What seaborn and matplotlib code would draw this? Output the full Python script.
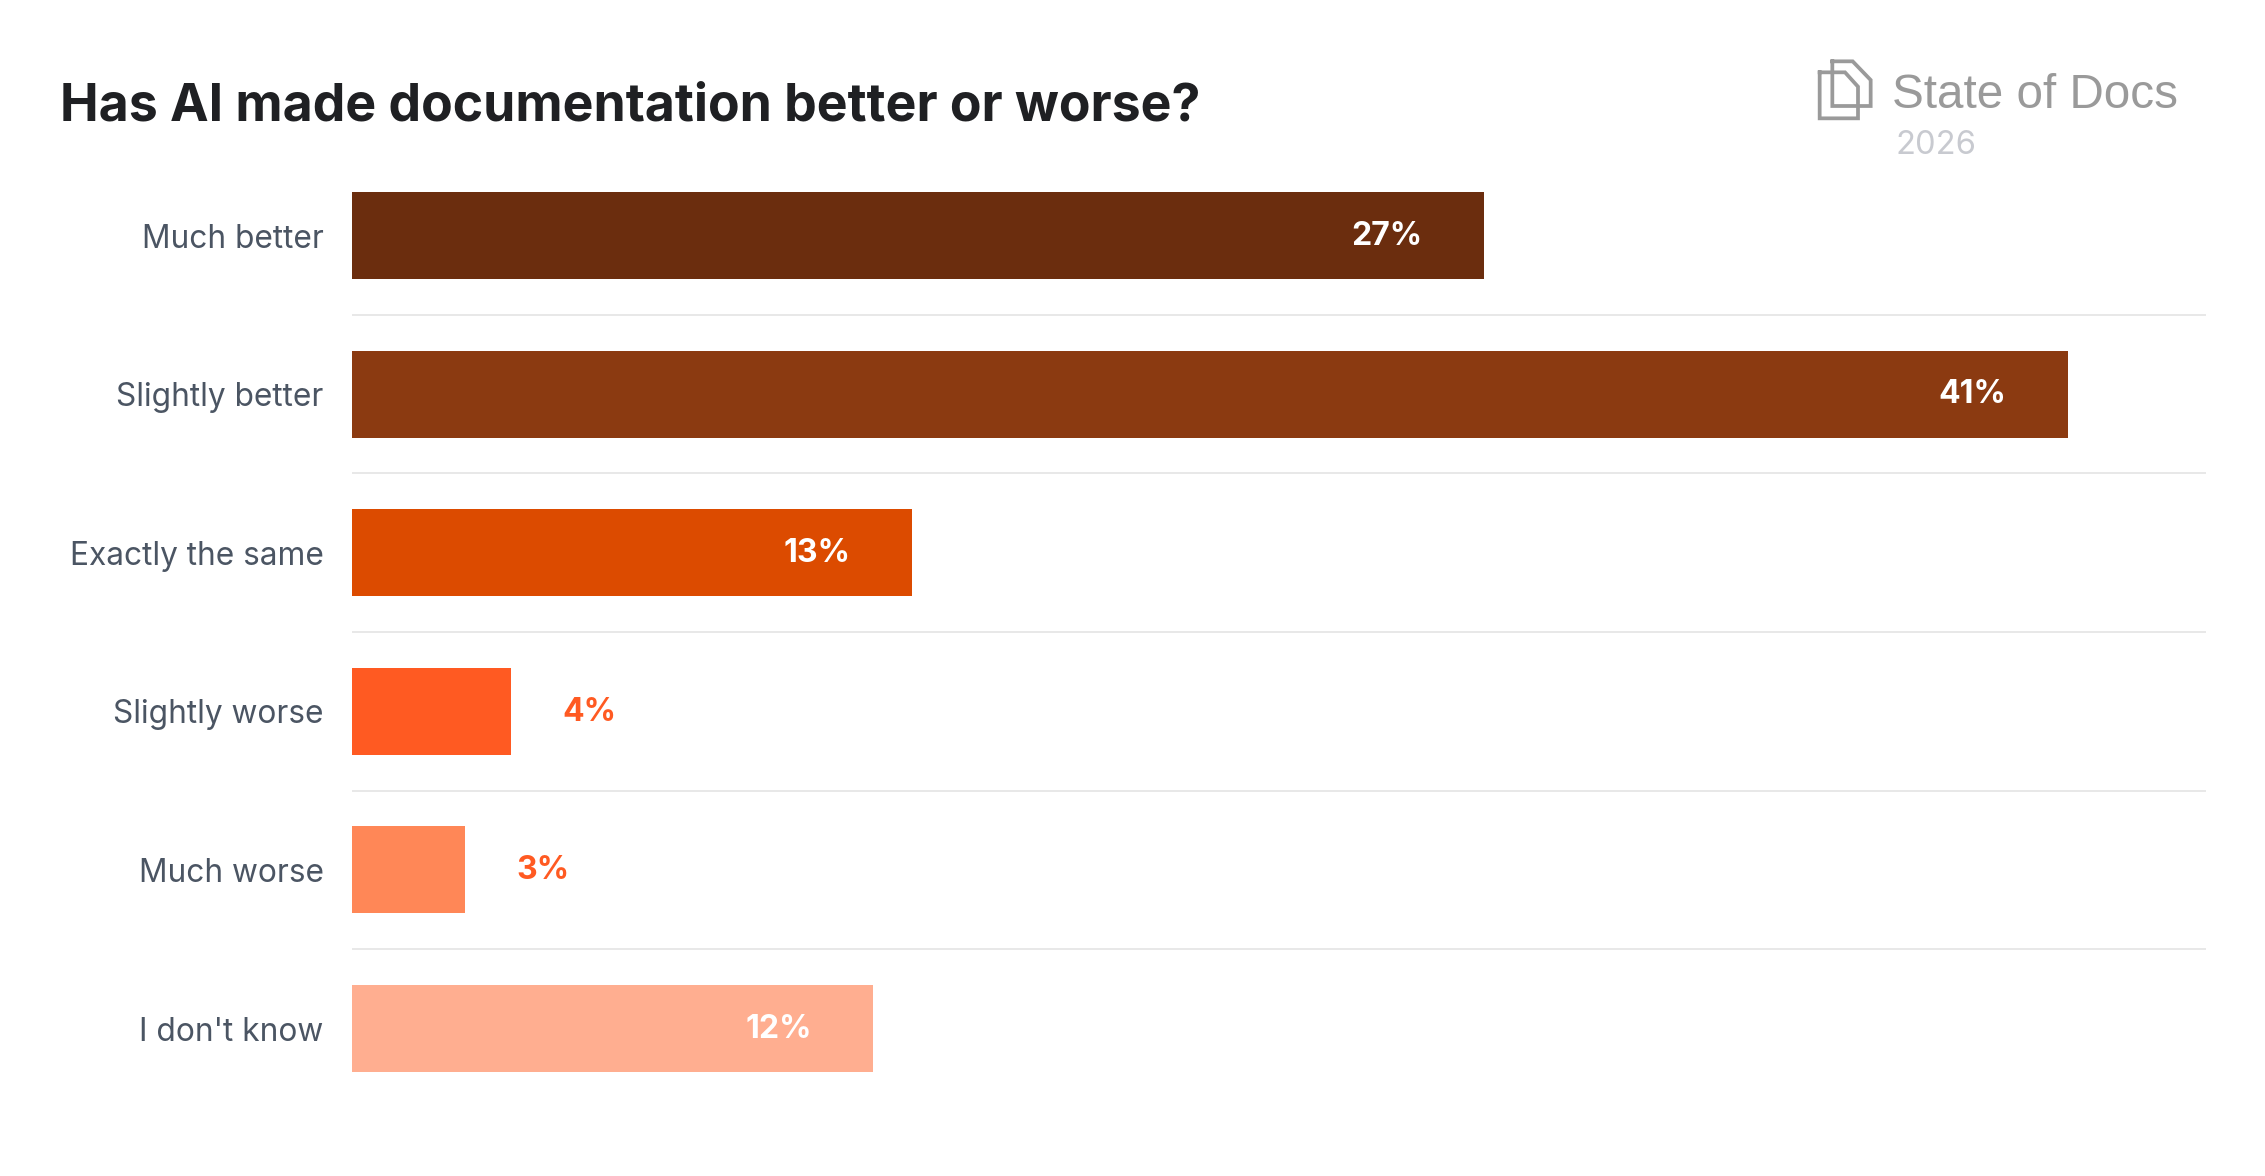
import matplotlib
matplotlib.use("Agg")
import matplotlib.pyplot as plt
from matplotlib.lines import Line2D
import pandas as pd
import seaborn as sns

categories = ["Much better", "Slightly better", "Exactly the same", "Slightly worse", "Much worse", "I don't know"]
values = [27.04, 41.0, 13.37, 3.81, 2.69, 12.45]
value_labels = ["27%", "41%", "13%", "4%", "3%", "12%"]
bar_colors = ["#6B2D0E", "#8B3A11", "#DC4B00", "#FF5A22", "#FF8757", "#FFAE90"]
label_inside = [True, True, True, False, False, True]

W, H = 2265, 1176
FONT = "Inter"
HEAD = "Liberation Sans"
sns.set_theme(style="white")
plt.rcParams["font.family"] = [FONT, "DejaVu Sans"]

df = pd.DataFrame({"answer": categories, "share": values})
fig = plt.figure(figsize=(W / 100, H / 100), dpi=100, facecolor="white")
left, right, top, bottom = 352, 2206, 156.2, 1107.9
ax = fig.add_axes([left / W, 1 - bottom / H, (right - left) / W, (bottom - top) / H])
sns.barplot(data=df, y="answer", x="share", hue="answer", palette=bar_colors,
            order=categories, hue_order=categories, width=0.5486, saturation=1,
            legend=False, ax=ax, linewidth=0)
ax.set_xlim(0, (right - left) / 41.85)
ax.set_ylim(5.5, -0.5)
ax.set_xlabel("")
ax.set_ylabel("")
ax.set_xticks([])
sns.despine(ax=ax, left=True, bottom=True, top=True, right=True)
ax.hlines([i + 0.5 for i in range(len(categories) - 1)], 0, 1, transform=ax.get_yaxis_transform(),
          color="#E8E8E8", linewidth=1.4, zorder=0)
ax.tick_params(axis="y", length=0, pad=20.5, labelsize=22.8, labelcolor="#4B5563")

for i, (v, lab, inside) in enumerate(zip(values, value_labels, label_inside)):
    if inside:
        ax.annotate(lab, (v, i), xytext=(-44, -0.6), textcoords="offset points", ha="right", va="center",
                    color="white", fontsize=23, fontweight="bold")
    else:
        ax.annotate(lab, (v, i), xytext=(37, -0.6), textcoords="offset points", ha="left", va="center",
                    color="#FF5A22", fontsize=23, fontweight="bold")

fig.text(60 / W, 1 - 107 / H, "Has AI made documentation better or worse?", fontsize=37.3, fontweight="bold",
         color="#1F2023", ha="left", va="center")
fig.text(1892 / W, 1 - 95 / H, "State of Docs", fontsize=34.3, color="#9A9A9A", ha="left", va="center",
         family=[HEAD, "DejaVu Sans"])
fig.text(1896 / W, 1 - 145 / H, "2026", fontsize=23.5, color="#C8CAD0", ha="left", va="center")

def page(pts):
    xs = [(1780 + p[0] / 3) / W for p in pts]
    ys = [1 - (30 + p[1] / 3) / H for p in pts]
    fig.add_artist(Line2D(xs, ys, color="#9A9A9A", linewidth=2.7, solid_joinstyle="miter", solid_capstyle="projecting"))

page([(157, 94), (218, 94), (272, 150), (272, 228), (157, 228), (157, 94)])
page([(119, 127), (195, 127), (234, 170), (234, 265), (119, 265), (119, 127)])

fig.savefig("out.png", dpi=100, facecolor="white")
